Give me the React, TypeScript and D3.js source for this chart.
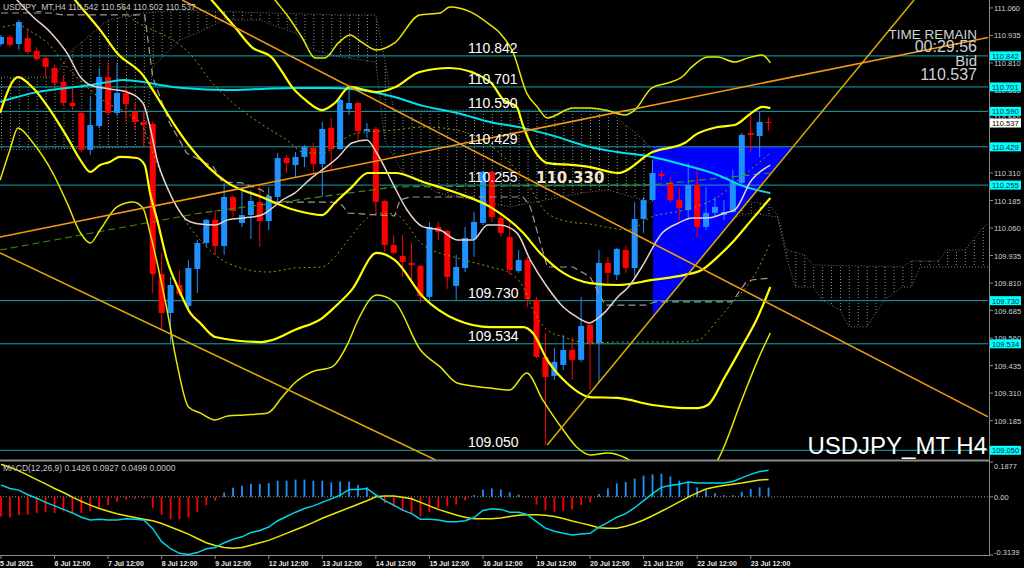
import React from "react";
import * as d3 from "d3";

type Pt = [number, number];

// H4 candles, 5 Jul 12:00 .. 23 Jul 20:00
const opens = [
  110.896, 110.928, 110.896, 110.923, 110.864, 110.832, 110.787, 110.724, 110.628, 110.583,
  110.415, 110.524, 110.746, 110.583, 110.674, 110.587, 110.542, 110.533, 109.851, 109.674,
  109.801, 109.706, 109.874, 109.992, 110.097, 109.978, 110.201, 110.083, 110.119, 110.178,
  110.092, 110.201, 110.378, 110.346, 110.383, 110.424, 110.351, 110.515, 110.419, 110.601,
  110.628, 110.501, 110.51, 110.183, 109.983, 109.933, 109.901, 109.888, 109.747, 110.065,
  110.047, 109.797, 109.878, 110.01, 110.083, 110.315, 110.106, 110.019, 109.865, 109.915,
  109.733, 109.474, 109.388, 109.438, 109.506, 109.461, 109.62, 109.538, 109.901, 109.847,
  109.96, 109.878, 110.101, 110.187, 110.306, 110.265, 110.187, 110.142, 110.256, 110.065,
  110.129, 110.119, 110.133, 110.265, 110.492, 110.478, 110.542,
];
const highs = [
  110.937, 110.937, 111.005, 110.964, 110.882, 110.842, 110.801, 110.755, 110.696, 110.592,
  110.655, 110.787, 110.814, 110.81, 110.701, 110.628, 110.596, 110.542, 109.947, 109.838,
  109.869, 109.915, 110.006, 110.101, 110.142, 110.264, 110.21, 110.233, 110.233, 110.256,
  110.246, 110.401, 110.392, 110.405, 110.437, 110.446, 110.542, 110.56, 110.646, 110.687,
  110.632, 110.537, 110.519, 110.187, 110.028, 110.028, 109.992, 109.892, 110.087, 110.087,
  110.051, 109.938, 110.065, 110.133, 110.32, 110.32, 110.129, 110.087, 109.96, 109.929,
  109.747, 109.583, 109.515, 109.574, 109.565, 109.747, 109.624, 109.96, 109.929, 109.97,
  109.979, 110.178, 110.201, 110.369, 110.324, 110.292, 110.246, 110.356, 110.337, 110.246,
  110.201, 110.187, 110.324, 110.492, 110.574, 110.587, 110.564,
];
const lows = [
  110.887, 110.882, 110.869, 110.851, 110.819, 110.746, 110.705, 110.619, 110.596, 110.405,
  110.392, 110.515, 110.574, 110.569, 110.542, 110.505, 110.428, 109.765, 109.597, 109.538,
  109.751, 109.697, 109.765, 109.974, 109.938, 109.938, 110.11, 110.065, 110.01, 109.974,
  110.051, 110.174, 110.31, 110.292, 110.337, 110.31, 110.201, 110.324, 110.415, 110.574,
  110.46, 110.469, 110.133, 109.951, 109.938, 109.838, 109.824, 109.719, 109.733, 110.006,
  109.783, 109.733, 109.86, 109.929, 110.074, 110.087, 110.019, 109.847, 109.856, 109.701,
  109.47, 109.074, 109.37, 109.415, 109.37, 109.452, 109.324, 109.356, 109.811, 109.824,
  109.856, 109.838, 110.038, 110.183, 110.278, 110.174, 110.097, 110.097, 110.015, 110.051,
  110.11, 110.097, 110.129, 110.256, 110.405, 110.383, 110.502,
];
const closes = [
  110.928, 110.892, 110.996, 110.86, 110.828, 110.792, 110.719, 110.628, 110.614, 110.415,
  110.528, 110.746, 110.583, 110.674, 110.624, 110.542, 110.528, 109.851, 109.674, 109.801,
  109.76, 109.878, 109.992, 110.097, 109.978, 110.201, 110.137, 110.119, 110.183, 110.092,
  110.206, 110.378, 110.355, 110.383, 110.428, 110.351, 110.51, 110.419, 110.642, 110.628,
  110.501, 110.51, 110.178, 109.983, 109.947, 109.906, 109.892, 109.751, 110.065, 110.042,
  109.838, 109.883, 110.015, 110.088, 110.315, 110.11, 110.038, 109.869, 109.915, 109.738,
  109.474, 109.383, 109.452, 109.506, 109.461, 109.615, 109.538, 109.901, 109.856, 109.965,
  109.878, 110.101, 110.187, 110.31, 110.296, 110.187, 110.151, 110.256, 110.065, 110.129,
  110.156, 110.133, 110.269, 110.483, 110.483, 110.542, 110.537,
];

const dateLabels = [
  "5 Jul 2021", "6 Jul 12:00", "7 Jul 12:00", "8 Jul 12:00", "9 Jul 12:00",
  "12 Jul 12:00", "13 Jul 12:00", "14 Jul 12:00", "15 Jul 12:00", "16 Jul 12:00",
  "19 Jul 12:00", "20 Jul 12:00", "21 Jul 12:00", "22 Jul 12:00", "23 Jul 12:00",
];

const levels = [110.842, 110.701, 110.59, 110.429, 110.255, 109.73, 109.534, 109.05];
const priceTicks = [
  111.06, 110.935, 110.81, 110.685, 110.56, 110.435, 110.31, 110.185, 110.06,
  109.935, 109.81, 109.685, 109.56, 109.435, 109.31, 109.185, 109.06,
];
const macdTicks = [0.1877, 0, -0.3139];
const macdReadout = [0.1426, 0.0927, 0.0499, 0.0];

// MACD(12,26,9)
const macdMain = [
  0.064, 0.045, 0.036, 0.011, -0.008, -0.03, -0.049, -0.068, -0.087, -0.11,
  -0.125, -0.121, -0.125, -0.125, -0.119, -0.121, -0.125, -0.172, -0.242, -0.28,
  -0.305, -0.311, -0.301, -0.28, -0.273, -0.248, -0.229, -0.216, -0.193, -0.182,
  -0.163, -0.129, -0.106, -0.083, -0.063, -0.049, -0.03, -0.011, 0.008, 0.04,
  0.04, 0.045, 0.011, -0.021, -0.045, -0.072, -0.091, -0.121, -0.121, -0.125,
  -0.134, -0.134, -0.129, -0.112, -0.074, -0.064, -0.068, -0.083, -0.083, -0.097,
  -0.134, -0.169, -0.186, -0.197, -0.206, -0.201, -0.197, -0.163, -0.138, -0.11,
  -0.091, -0.059, -0.021, 0.017, 0.051, 0.061, 0.068, 0.08, 0.074, 0.074,
  0.074, 0.074, 0.083, 0.102, 0.121, 0.136, 0.143,
];
const macdSignal = [
  0.176, 0.159, 0.14, 0.117, 0.093, 0.07, 0.045, 0.023, -0.002, -0.025,
  -0.045, -0.063, -0.078, -0.091, -0.102, -0.112, -0.121, -0.129, -0.144, -0.163,
  -0.182, -0.201, -0.225, -0.248, -0.263, -0.273, -0.277, -0.273, -0.261, -0.248,
  -0.235, -0.216, -0.197, -0.178, -0.159, -0.138, -0.116, -0.097, -0.078, -0.059,
  -0.04, -0.021, 0.0, 0.004, 0.004, -0.002, -0.011, -0.03, -0.049, -0.068,
  -0.083, -0.098, -0.11, -0.119, -0.119, -0.119, -0.114, -0.106, -0.1, -0.097,
  -0.097, -0.1, -0.106, -0.117, -0.131, -0.142, -0.153, -0.167, -0.17, -0.169,
  -0.159, -0.144, -0.125, -0.102, -0.078, -0.053, -0.027, -0.002, 0.021, 0.042,
  0.053, 0.061, 0.068, 0.074, 0.083, 0.091, 0.093,
];
const macdHist = [
  -0.106, -0.112, -0.1, -0.097, -0.087, -0.083, -0.087, -0.078, -0.087, -0.087,
  -0.078, -0.059, -0.045, -0.027, -0.013, -0.011, -0.008, -0.059, -0.097, -0.121,
  -0.121, -0.112, -0.081, -0.045, -0.021, 0.023, 0.049, 0.059, 0.07, 0.07,
  0.074, 0.087, 0.087, 0.093, 0.093, 0.087, 0.087, 0.078, 0.083, 0.083,
  0.064, 0.051, 0.011, -0.034, -0.053, -0.074, -0.091, -0.106, -0.083, -0.063,
  -0.049, -0.042, -0.019, 0.008, 0.04, 0.045, 0.039, 0.024, 0.012, -0.004,
  -0.042, -0.072, -0.08, -0.076, -0.068, -0.045, -0.03, 0.015, 0.045, 0.072,
  0.08, 0.098, 0.114, 0.121, 0.125, 0.11, 0.087, 0.074, 0.051, 0.036,
  0.019, 0.008, 0.008, 0.027, 0.042, 0.051, 0.05,
];

// indicator lines: [bar index, price]
const bbMid: Pt[] = [
  [6.5, 111.19], [8.3, 111.096], [11.1, 110.96], [13, 110.855], [15.9, 110.755], [17.5, 110.655],
  [19.3, 110.537], [21.2, 110.428], [25.4, 110.265], [29.2, 110.201], [32.9, 110.142], [36, 110.119],
  [37.4, 110.174], [39.3, 110.246], [41.1, 110.31], [44.2, 110.31], [47.3, 110.269], [51.1, 110.219],
  [54.8, 110.156], [58.5, 110.038], [60.4, 109.947], [63, 109.856], [66, 109.81], [69.1, 109.801],
  [73, 109.824], [76.6, 109.847], [78.5, 109.869], [80.3, 109.929], [82.2, 110.006], [84.1, 110.097],
  [86.2, 110.196],
];
const bbUp2: Pt[] = [
  [22, 111.17], [23.6, 111.096], [26.2, 110.973], [28.1, 110.882], [30.4, 110.833], [31.5, 110.769],
  [32.6, 110.701], [34.1, 110.642], [36, 110.596], [37.4, 110.628], [39.1, 110.701], [40.8, 110.687],
  [42.1, 110.678], [44.2, 110.701], [46.9, 110.769], [50.3, 110.787], [54.8, 110.724], [56.3, 110.642],
  [57.8, 110.61], [58.4, 110.537], [59.3, 110.446], [60.4, 110.378], [61.2, 110.355], [64.1, 110.346],
  [66, 110.337], [69.1, 110.31], [73, 110.405], [76.6, 110.446], [77.8, 110.483], [80.3, 110.519],
  [82.2, 110.528], [84.1, 110.583], [85.3, 110.61], [86.2, 110.605],
];
const bbLo2: Pt[] = [
  [-0.1, 110.583], [1.9, 110.746], [3.6, 110.696], [5.5, 110.596], [7.4, 110.474], [8.9, 110.369],
  [10, 110.315], [11.1, 110.346], [12.2, 110.36], [13.3, 110.383], [15.2, 110.378], [16.1, 110.346],
  [16.7, 110.219], [17.5, 110.097], [18.6, 109.915], [20.1, 109.765], [21.2, 109.674], [22.3, 109.629],
  [24, 109.565], [29.2, 109.542], [30.4, 109.551], [32.9, 109.597], [36, 109.651], [37.4, 109.701],
  [39.3, 109.779], [42.1, 109.947], [44.1, 109.915], [47.3, 109.747], [51.1, 109.642], [54.8, 109.61],
  [58.5, 109.61], [59.6, 109.583], [61.2, 109.461], [63.4, 109.356], [66, 109.292], [69.1, 109.288],
  [73, 109.256], [76.6, 109.242], [78.1, 109.242], [79.2, 109.256], [81.1, 109.383], [83, 109.52],
  [84.8, 109.656], [86.2, 109.792],
];
const bbUp3: Pt[] = [
  [29.5, 111.16], [30.7, 111.096], [32.2, 111.019], [33.7, 110.928], [35.2, 110.833], [36.3, 110.833],
  [37.8, 110.901], [39.1, 110.937], [40.4, 110.905], [42.1, 110.869], [44.1, 110.901], [46.9, 111.028],
  [49.2, 111.037], [50.3, 111.064], [52.6, 111.042], [54.8, 110.983], [55.9, 110.946], [57.4, 110.855],
  [58.9, 110.673], [60.1, 110.61], [61.2, 110.56], [64.1, 110.605], [66, 110.605], [67.7, 110.596],
  [69.9, 110.574], [71, 110.596], [72.9, 110.696], [74.7, 110.719], [76.3, 110.746], [77.4, 110.792],
  [79.2, 110.837], [80.3, 110.837], [82.2, 110.814], [83.7, 110.833], [85.3, 110.846], [86.2, 110.81],
];
const bbLo3: Pt[] = [
  [-0.1, 110.278], [1, 110.415], [1.9, 110.515], [3.6, 110.446], [5.8, 110.31], [7.4, 110.174],
  [8.9, 110.038], [10, 109.992], [11.1, 110.051], [13, 110.156], [14.8, 110.178], [15.9, 110.151],
  [16.7, 110.038], [17.5, 109.901], [18.6, 109.688], [19.7, 109.447], [21, 109.247], [22.3, 109.22],
  [24, 109.188], [25.4, 109.206], [27.3, 109.211], [29.9, 109.22], [31.5, 109.292], [32.9, 109.356],
  [34.8, 109.406], [37.1, 109.429], [38.9, 109.538], [40, 109.642], [42.1, 109.756], [44.1, 109.724],
  [47, 109.506], [49.2, 109.429], [51.1, 109.356], [54.8, 109.333], [57, 109.324], [58.9, 109.401],
  [60.7, 109.279], [63, 109.142], [64.5, 109.065], [66, 109.029], [68, 109.038], [70, 109.015],
  [73, 108.917], [77, 108.894], [80.3, 109.006], [83, 109.279], [84.8, 109.461], [86.2, 109.583],
];
const bbUp1: Pt[] = [
  [12, 111.15], [13.3, 111.096], [14.1, 111.037], [17, 110.96], [19.3, 110.914], [21.5, 110.837],
  [23.4, 110.733], [26, 110.628], [29, 110.537], [32, 110.46], [34.1, 110.401], [36, 110.401],
  [38.2, 110.46], [40, 110.492], [44.1, 110.505], [47.3, 110.519], [51.1, 110.505], [54.8, 110.437],
  [56.7, 110.369], [58.5, 110.292], [61.2, 110.128], [63.8, 110.087], [66, 110.078], [67.7, 110.065],
  [70.3, 110.051], [72.9, 110.11], [76.6, 110.142], [80.3, 110.201], [83, 110.292], [86.2, 110.401],
];
const bbLo1: Pt[] = [
  [0.2, 110.973], [1.8, 110.983], [3.6, 110.946], [5.2, 110.901], [7.4, 110.792], [9.6, 110.701],
  [11.9, 110.628], [14.1, 110.583], [15.9, 110.519], [17, 110.401], [18.6, 110.246], [20.1, 110.128],
  [22.3, 110.006], [25.4, 109.901], [29.9, 109.86], [32.9, 109.878], [36, 109.883], [37.4, 109.929],
  [38.9, 110.006], [40.8, 110.097], [42.1, 110.128], [44.1, 110.124], [47.3, 109.983], [51.1, 109.924],
  [54.8, 109.883], [57, 109.856], [58.5, 109.792], [59.6, 109.688], [61.2, 109.597], [63, 109.565],
  [66, 109.538], [69.1, 109.542], [72.9, 109.542], [75.9, 109.542], [78.1, 109.551], [80.3, 109.642],
  [82.2, 109.733], [84.1, 109.824], [86.2, 109.992],
];
const maLong: Pt[] = [
  [-0.1, 110.633], [1.8, 110.655], [3.6, 110.674], [5.5, 110.687], [7.4, 110.696], [10, 110.71],
  [12.2, 110.724], [13.7, 110.733], [15.9, 110.724], [17.8, 110.71], [20.4, 110.696], [25.4, 110.687],
  [29.2, 110.692], [32.9, 110.696], [36.6, 110.696], [39.3, 110.692], [41.6, 110.678], [44.1, 110.655],
  [47.3, 110.615], [51.1, 110.583], [54.8, 110.542], [58.5, 110.515], [62.3, 110.474], [66, 110.428],
  [69.1, 110.405], [73, 110.383], [76.6, 110.346], [80.3, 110.301], [83.4, 110.247], [86.2, 110.219],
];
const maShort: Pt[] = [
  [0, 111.18], [1.8, 111.096], [3.6, 111.019], [5.5, 110.951], [7.4, 110.855], [8.9, 110.746],
  [10, 110.71], [12.2, 110.692], [14.1, 110.678], [15.9, 110.628], [16.7, 110.519], [17.5, 110.369],
  [18.6, 110.246], [19.7, 110.156], [20.8, 110.097], [22.3, 110.078], [24, 110.074], [25.4, 110.097],
  [27.3, 110.106], [29.2, 110.119], [30.4, 110.151], [31.5, 110.187], [32.9, 110.219], [34.8, 110.288],
  [36, 110.324], [37.8, 110.383], [39.3, 110.446], [41, 110.46], [42.1, 110.401], [44.1, 110.246],
  [45.5, 110.142], [47.3, 110.065], [49.2, 110.051], [51.1, 110.006], [52.9, 110.006], [54.5, 110.074],
  [55.9, 110.074], [57.8, 110.038], [59.3, 109.915], [61.2, 109.792], [63, 109.701], [64.5, 109.656],
  [66, 109.629], [66.6, 109.642], [67.7, 109.679], [69.1, 109.747], [70.3, 109.792], [71.8, 109.883],
  [74.1, 110.038], [75.9, 110.083], [77.4, 110.106], [79.2, 110.106], [81.1, 110.128], [82.2, 110.142],
  [84.1, 110.278], [86.2, 110.346],
];
const kijun: Pt[] = [
  [0, 111.037], [5.5, 111.037], [7, 111.028], [16.1, 111.028], [17, 110.746], [18.9, 110.537],
  [20.8, 110.401], [23.8, 110.337], [24.8, 110.269], [27, 110.265], [29.2, 110.233], [30.7, 110.178],
  [37.1, 110.178], [38.2, 110.165], [38.9, 110.128], [44.1, 110.115], [44.7, 110.187], [45.8, 110.201],
  [58.5, 110.201], [59.3, 110.156], [61.2, 109.883], [64.1, 109.883], [66, 109.838], [67.7, 109.71],
  [72.2, 109.71], [73.3, 109.724], [81.9, 109.724], [83.4, 109.81], [84.1, 109.824], [86.2, 109.833],
];
const spanA: Pt[] = [
  [0, 110.746], [6, 110.746], [8, 110.869], [12, 111.005], [16, 111.037], [20, 111.051], [30, 111.037],
  [38, 111.028], [42, 111.028], [43, 110.823], [44, 110.596], [68, 110.596], [72, 110.46], [75, 110.31],
  [80, 110.21], [84, 110.178], [86, 110.169], [87, 110.119], [88, 109.96], [90, 109.938], [91, 109.892],
  [101, 109.883], [102, 109.91], [105, 109.91], [106, 109.96], [108, 109.96], [110, 110.06], [111, 110.1],
];
const spanB: Pt[] = [
  [0, 110.415], [16, 110.428], [17, 110.792], [20, 110.914], [22, 110.946], [25, 111.005], [29, 111.005],
  [33, 110.946], [35, 110.869], [38, 110.837], [42, 110.814], [43, 110.46], [45, 110.31], [49, 110.219],
  [53, 110.187], [57, 110.156], [61, 110.187], [65, 110.219], [68, 110.233], [72, 110.187], [76, 110.119],
  [80, 110.087], [84, 110.128], [87, 110.11], [88, 109.929], [89, 109.792], [91, 109.792], [92, 109.733],
  [94, 109.688], [95, 109.611], [97, 109.611], [99, 109.733], [101, 109.792], [102, 109.792],
  [103, 109.883], [111, 109.883],
];

// drawn objects
const orangeUp: Pt[] = [[-0.112, 110.019], [110.6, 110.926]];
const orangeDown: Pt[] = [[20.3, 111.096], [110.6, 109.202]];
const goldDown: Pt[] = [[-0.112, 109.947], [48.7, 109.006]];
const goldUp: Pt[] = [[61.2, 109.074], [102.3, 111.096]];
const greenDash: Pt[] = [[-0.1, 109.96], [22.3, 110.128], [44.1, 110.247], [73, 110.256], [86.2, 110.31]];
const triangle: Pt[] = [[73.05, 110.429], [88.7, 110.429], [73.05, 109.661]];
const markPrice = 110.33;

const FONT = "'Liberation Sans', Arial, sans-serif";

export default function App() {
  const width = 1024;
  const height = 568;
  const right = 988;

  const x = d3.scaleLinear().domain([0, 100]).range([1, 893.5]);
  const y = d3.scaleLinear().domain([109.006, 111.096]).range([460, 0]);
  const ym = d3.scaleLinear().domain([-0.3139, 0.1877]).range([555, 462]);

  const curve = d3.line<Pt>().x((d) => x(d[0])).y((d) => y(d[1])).curve(d3.curveMonotoneX);
  const straight = d3.line<Pt>().x((d) => x(d[0])).y((d) => y(d[1]));
  const macdLine = d3
    .line<number>()
    .x((d, i) => x(i))
    .y((d) => ym(d));

  const cloudPath = straight([...spanA, ...spanB.slice().reverse()]) + "Z";
  const last = closes.length - 1;
  const header = `USDJPY_MT,H4  ${opens[last].toFixed(3)} ${highs[last].toFixed(3)} ${lows[last].toFixed(3)} ${closes[last].toFixed(3)}`;

  const bands: { d: Pt[]; w: number; c: string; dash?: string }[] = [
    { d: bbUp1, w: 1, c: "#9a9a00", dash: "2,3" },
    { d: bbLo1, w: 1, c: "#9a9a00", dash: "2,3" },
    { d: bbUp3, w: 1.5, c: "#e8e800" },
    { d: bbLo3, w: 1.5, c: "#e8e800" },
    { d: bbUp2, w: 2.2, c: "#ffff00" },
    { d: bbLo2, w: 2.2, c: "#ffff00" },
    { d: bbMid, w: 2.2, c: "#ffff00" },
  ];

  return (
    <div style={{ position: "absolute", left: 0, top: 0, width, height, background: "#000" }}>
      <svg width={width} height={height} style={{ display: "block", fontFamily: FONT }}>
        <defs>
          <clipPath id="main">
            <rect x={0} y={0} width={right} height={460} />
          </clipPath>
          <clipPath id="sub">
            <rect x={0} y={462} width={right} height={93} />
          </clipPath>
          <pattern id="hatch" patternUnits="userSpaceOnUse" x={x(0)} y={0} width={x(1) - x(0)} height={3}>
            <rect x={0} y={0} width={1} height={1} fill="#8c8c8c" />
          </pattern>
        </defs>
        <rect x={0} y={0} width={width} height={height} fill="#000" />

        <g clipPath="url(#main)">
          {/* ichimoku cloud */}
          <path d={cloudPath} fill="url(#hatch)" />
          <path d={straight(spanA) || ""} fill="none" stroke="#7a7a7a" strokeDasharray="1,2" />
          <path d={straight(spanB) || ""} fill="none" stroke="#7a7a7a" strokeDasharray="1,2" />

          <path d={straight(triangle) + "Z"} fill="#0000ff" />

          {levels.map((lv) => (
            <line key={lv} x1={0} x2={right} y1={y(lv)} y2={y(lv)} stroke="#13a6ad" strokeWidth={1} />
          ))}

          {/* candles */}
          {closes.map((c, i) => {
            const col = c >= opens[i] ? "#1e90ff" : "#ff0000";
            const top = y(Math.max(c, opens[i]));
            const bot = y(Math.min(c, opens[i]));
            return (
              <g key={i}>
                <line x1={x(i)} x2={x(i)} y1={y(highs[i])} y2={y(lows[i])} stroke={col} strokeWidth={1} />
                <rect x={x(i) - 3} y={top} width={6} height={Math.max(1, bot - top)} fill={col} />
              </g>
            );
          })}

          <path d={straight(kijun) || ""} fill="none" stroke="#a89888" strokeWidth={1.2} strokeDasharray="7,4" />
          <path d={straight(greenDash) || ""} fill="none" stroke="#3f8f10" strokeWidth={1.2} strokeDasharray="7,4" />
          <path d={curve(maLong) || ""} fill="none" stroke="#00e0ea" strokeWidth={2} />
          {bands.map((b, k) => (
            <path key={k} d={curve(b.d) || ""} fill="none" stroke={b.c} strokeWidth={b.w} strokeDasharray={b.dash} />
          ))}
          <path d={curve(maShort) || ""} fill="none" stroke="#ead2cc" strokeWidth={1.5} />

          <path d={straight(orangeUp) || ""} stroke="#f39a12" strokeWidth={1.6} />
          <path d={straight(orangeDown) || ""} stroke="#f39a12" strokeWidth={1.6} />
          <path d={straight(goldDown) || ""} stroke="#d9ad00" strokeWidth={1.5} />
          <path d={straight(goldUp) || ""} stroke="#d9ad00" strokeWidth={1.5} />

          {levels.map((lv) => (
            <text key={lv} x={468} y={y(lv) - 3} fontSize={14} fill="#ffffff">
              {lv.toFixed(3)}
            </text>
          ))}
          <text x={536} y={y(markPrice) + 14} fontSize={15} fontWeight="bold" fill="#f2e6d2" fontFamily="'DejaVu Sans', sans-serif">
            {markPrice.toFixed(3)}
          </text>
        </g>

        <text x={3} y={10} fontSize={8.5} fill="#c8c8c8">
          {header}
        </text>
        <g fill="#d0d0d0" textAnchor="end">
          <text x={977} y={39} fontSize={13.5}>TIME REMAIN</text>
          <text x={977} y={52} fontSize={16}>00:29:56</text>
          <text x={977} y={66} fontSize={15}>Bid</text>
          <text x={977} y={80} fontSize={16}>{closes[last].toFixed(3)}</text>
        </g>
        <text x={987} y={454} fontSize={24} fill="#ffffff" textAnchor="end">
          USDJPY_MT H4
        </text>

        {/* MACD window */}
        <g clipPath="url(#sub)">
          <line x1={0} x2={right} y1={ym(0)} y2={ym(0)} stroke="#9a9a9a" strokeDasharray="1,2" />
          {macdHist.map((v, i) => (
            <line
              key={i}
              x1={x(i)}
              x2={x(i)}
              y1={ym(0)}
              y2={ym(v)}
              stroke={v >= 0 ? "#1e90ff" : "#ff0000"}
              strokeWidth={1.8}
            />
          ))}
          <path d={macdLine(macdSignal) || ""} fill="none" stroke="#e8e800" strokeWidth={1.5} />
          <path d={macdLine(macdMain) || ""} fill="none" stroke="#00d4e4" strokeWidth={1.5} />
        </g>
        <text x={3} y={471} fontSize={8.5} fill="#c8c8c8">
          {`MACD(12,26,9) ${macdReadout.map((v) => v.toFixed(4)).join(" ")}`}
        </text>

        {/* frames */}
        <line x1={0} x2={right + 1} y1={460.5} y2={460.5} stroke="#8a8a8a" strokeWidth={2} />
        <line x1={0} x2={right + 1} y1={555.5} y2={555.5} stroke="#8a8a8a" strokeWidth={1} />
        <line x1={989.5} x2={989.5} y1={0} y2={556} stroke="#8a8a8a" strokeWidth={1} />

        {/* price axis */}
        {priceTicks.map((p) => (
          <g key={p}>
            <line x1={989} x2={993} y1={y(p)} y2={y(p)} stroke="#8a8a8a" />
            <text x={994} y={y(p) + 3} fontSize={7.5} fill="#d0d0d0">
              {p.toFixed(3)}
            </text>
          </g>
        ))}
        {levels.map((lv) => (
          <g key={lv}>
            <rect x={990} y={y(lv) - 4.5} width={31} height={9} fill="#00ffff" />
            <text x={992} y={y(lv) + 3} fontSize={7.5} fill="#003040">
              {lv.toFixed(3)}
            </text>
          </g>
        ))}
        <rect x={990} y={y(closes[last]) - 4.5} width={31} height={9} fill="#ffffff" />
        <text x={992} y={y(closes[last]) + 3} fontSize={7.5} fill="#000">
          {closes[last].toFixed(3)}
        </text>

        {macdTicks.map((v) => (
          <g key={v}>
            <line x1={989} x2={993} y1={ym(v)} y2={ym(v)} stroke="#8a8a8a" />
            <text x={994} y={Math.min(Math.max(ym(v) + 3, 469), 555)} fontSize={7.5} fill="#d0d0d0">
              {v === 0 ? "0.00" : v.toFixed(4)}
            </text>
          </g>
        ))}

        {/* time axis */}
        {dateLabels.map((lab, k) => (
          <g key={lab}>
            <line x1={x(k * 6)} x2={x(k * 6)} y1={555} y2={559} stroke="#8a8a8a" />
            <text x={x(k * 6) - (k === 0 ? 1 : 0)} y={566} fontSize={7} fontWeight="bold" fill="#e8e8e8">
              {lab}
            </text>
          </g>
        ))}
      </svg>
    </div>
  );
}
